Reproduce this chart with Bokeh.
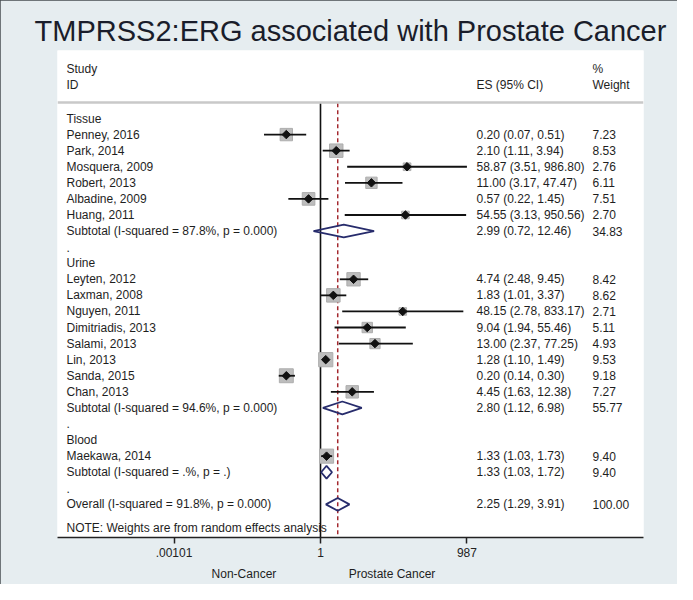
import math
from bokeh.plotting import figure
from bokeh.models import Range1d, FixedTicker, LabelSet, Span, ColumnDataSource, LogAxis
from bokeh.core.properties import value
from bokeh.embed import file_html
from bokeh.resources import INLINE

# ---------------- data ----------------
groups = ["Tissue", "Urine", "Blood"]

study = ["Penney, 2016", "Park, 2014", "Mosquera, 2009", "Robert, 2013",
         "Albadine, 2009", "Huang, 2011",
         "Leyten, 2012", "Laxman, 2008", "Nguyen, 2011", "Dimitriadis, 2013",
         "Salami, 2013", "Lin, 2013", "Sanda, 2015", "Chan, 2013",
         "Maekawa, 2014"]
study_group = ["Tissue"] * 6 + ["Urine"] * 8 + ["Blood"]
study_es = [0.20, 2.10, 58.87, 11.00, 0.57, 54.55,
            4.74, 1.83, 48.15, 9.04, 13.00, 1.28, 0.20, 4.45,
            1.33]
study_lo = [0.07, 1.11, 3.51, 3.17, 0.22, 3.13,
            2.48, 1.01, 2.78, 1.94, 2.37, 1.10, 0.14, 1.63,
            1.03]
study_hi = [0.51, 3.94, 986.80, 47.47, 1.45, 950.56,
            9.45, 3.37, 833.17, 55.46, 77.25, 1.49, 0.30, 12.38,
            1.73]
study_weight = [7.23, 8.53, 2.76, 6.11, 7.51, 2.70,
                8.42, 8.62, 2.71, 5.11, 4.93, 9.53, 9.18, 7.27,
                9.40]

subtotal_i2 = ["87.8%", "94.6%", ".%"]
subtotal_p = ["0.000", "0.000", "."]
subtotal_es = [2.99, 2.80, 1.33]
subtotal_lo = [0.72, 1.12, 1.03]
subtotal_hi = [12.46, 6.98, 1.72]
subtotal_weight = [34.83, 55.77, 9.40]

overall_i2 = "91.8%"
overall_p = "0.000"
overall_es = 2.25
overall_lo = 1.29
overall_hi = 3.91
overall_weight = 100.00

ticks = [0.00101, 1, 987]
tick_labels = [".00101", "1", "987"]

caption_labels = ["Non-Cancer", "Prostate Cancer"]
caption_pos = [10 ** -1.565, 10 ** 1.462]

title_text = "TMPRSS2:ERG associated with Prostate Cancer"

# ---------------- row layout ----------------
left_txt, left_row = [], []
es_txt, es_row = [], []
w_txt, w_row = [], []
pt_x, pt_lo, pt_hi, pt_row, pt_size = [], [], [], [], []
dia_xs, dia_ys = [], []

H = 0.4  # diamond half height in rows


def add_diamond(es, lo, hi, r):
    dia_xs.append([lo, es, hi, es])
    dia_ys.append([r, r - H, r, r + H])


row = 0
for gi, g in enumerate(groups):
    left_txt.append(g); left_row.append(row); row += 1
    for i, s in enumerate(study):
        if study_group[i] != g:
            continue
        left_txt.append(s); left_row.append(row)
        es_txt.append("%.2f (%.2f, %.2f)" % (study_es[i], study_lo[i], study_hi[i])); es_row.append(row)
        w_txt.append("%.2f" % study_weight[i]); w_row.append(row)
        pt_x.append(study_es[i]); pt_lo.append(study_lo[i]); pt_hi.append(study_hi[i])
        pt_row.append(row); pt_size.append(4.6 * math.sqrt(study_weight[i]))
        row += 1
    left_txt.append("Subtotal  (I-squared = %s, p = %s)" % (subtotal_i2[gi], subtotal_p[gi]))
    left_row.append(row)
    es_txt.append("%.2f (%.2f, %.2f)" % (subtotal_es[gi], subtotal_lo[gi], subtotal_hi[gi])); es_row.append(row)
    w_txt.append("%.2f" % subtotal_weight[gi]); w_row.append(row)
    add_diamond(subtotal_es[gi], subtotal_lo[gi], subtotal_hi[gi], row)
    row += 1
    left_txt.append("."); left_row.append(row); row += 1

left_txt.append("Overall  (I-squared = %s, p = %s)" % (overall_i2, overall_p)); left_row.append(row)
es_txt.append("%.2f (%.2f, %.2f)" % (overall_es, overall_lo, overall_hi)); es_row.append(row)
w_txt.append("%.2f" % overall_weight); w_row.append(row)
add_diamond(overall_es, overall_lo, overall_hi, row)
row += 1.45
left_txt.append("NOTE: Weights are from random effects analysis"); left_row.append(row)

# headers
left_txt += ["Study", "ID"]; left_row += [-3.1, -2.1]
es_txt.append("ES (95% CI)"); es_row.append(-2.1)
w_txt += ["%", "Weight"]; w_row += [-3.1, -2.1]

# ---------------- figure ----------------
FONT = "Liberation Sans"
TCOL = "#1e1e1e"
Y_BOTTOM = 26.06
Y_TOP = -4.23
p = figure(width=677, height=584, title=title_text,
           x_axis_type="log",
           x_range=Range1d(10 ** -5.378, 10 ** 6.605),
           y_range=Range1d(Y_BOTTOM, Y_TOP),
           y_axis_location=None,
           output_backend="svg", toolbar_location=None,
           min_border_left=57, min_border_right=34,
           min_border_top=50, min_border_bottom=47)
p.background_fill_color = "white"
p.border_fill_color = "#e6edf0"
p.outline_line_color = None
p.xgrid.visible = False
p.ygrid.visible = False
p.styles = {"outline": "3px solid #474d52", "outline-offset": "-3px"}

p.title.align = "center"
p.title.text_font = FONT
p.title.text_font_size = "29px"
p.title.text_font_style = "normal"
p.title.text_color = "#1a1d2b"
p.title.standoff = 8

ax = p.xaxis[0]
ax.ticker = FixedTicker(ticks=ticks)
ax.major_label_overrides = dict(zip(ticks, tick_labels))
ax.minor_tick_line_color = None
ax.major_tick_in = 0
ax.major_tick_out = 6
ax.major_tick_line_width = 1.5
ax.major_tick_line_color = "#222222"
ax.axis_line_width = 1.5
ax.axis_line_color = "#222222"
ax.major_label_text_font = FONT
ax.major_label_text_font_size = "12px"
ax.major_label_text_color = "#222222"
ax.major_label_standoff = 4

cap = LogAxis(ticker=FixedTicker(ticks=caption_pos),
              major_label_overrides=dict(zip(caption_pos, caption_labels)),
              axis_line_color=None, major_tick_line_color=None, minor_tick_line_color=None,
              major_tick_in=0, major_tick_out=0, major_label_standoff=7,
              major_label_text_font=FONT, major_label_text_font_size="12px",
              major_label_text_color=TCOL)
p.add_layout(cap, "below")

# header separator
p.add_layout(Span(location=-1.0, dimension="width", line_color="#c9c9c9", line_width=2.5))

# reference lines
p.segment(x0=[1], y0=[-0.95], x1=[1], y1=[Y_BOTTOM], line_color="#111111", line_width=1.6)
p.segment(x0=[overall_es], y0=[-0.95], x1=[overall_es], y1=[Y_BOTTOM],
          line_color="#a3282e", line_width=1.5, line_dash="4 3")

src = ColumnDataSource(dict(x=pt_x, lo=pt_lo, hi=pt_hi, y=pt_row, s=pt_size))
p.scatter(x="x", y="y", size="s", marker="square", source=src,
          fill_color="#bdbdbd", line_color="#adadad", line_width=1)
p.segment(x0="lo", y0="y", x1="hi", y1="y", source=src, line_color="#111111", line_width=1.8)
p.scatter(x="x", y="y", size=6, marker="square", angle=math.pi / 4, source=src,
          fill_color="#111111", line_color="#111111")

p.patches(xs=dia_xs, ys=dia_ys, fill_color=None, line_color="#272c6c", line_width=1.8)

# text columns
for txts, rows, xs in ((left_txt, left_row, 9), (es_txt, es_row, 419), (w_txt, w_row, 535)):
    s = ColumnDataSource(dict(t=txts, y=rows, x=[xs] * len(txts)))
    p.add_layout(LabelSet(x="x", y="y", text="t", source=s, x_units="screen", y_units="data",
                          text_font=value(FONT), text_font_size=value("12px"),
                          text_color=TCOL, text_align="left", text_baseline="middle"))

open("out.html", "w").write(file_html(p, INLINE))
